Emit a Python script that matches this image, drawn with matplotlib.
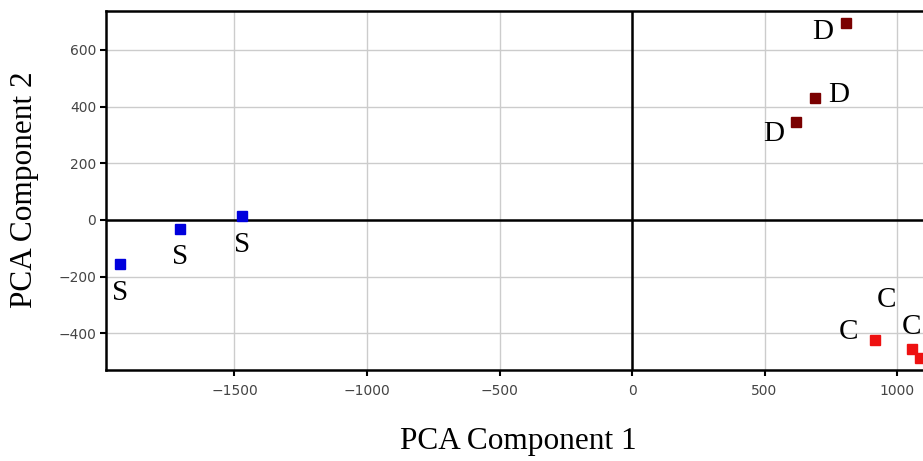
import matplotlib
matplotlib.use("Agg")
import matplotlib.pyplot as plt

# PCA scores
s_x = [-1932, -1706, -1472]
s_y = [-155, -32, 14]
d_x = [808, 690, 619]
d_y = [695, 430, 346]
c_x = [917, 1057, 1087]
c_y = [-423, -455, -487]

# label anchors (data coords)
s_lab = [(-1932, -256), (-1706, -129), (-1472, -87)]
d_lab = [(720, 662), (779, 440), (533, 302)]
c_lab = [(815, -394), (962, -281), (1055, -378)]

fig = plt.figure(figsize=(9.23, 4.61), dpi=100)
ax = fig.add_axes([0.1148, 0.1974, 0.895, 0.7787])

ax.set_xlim(-1985, 1132)
ax.set_ylim(-529, 737)
ax.set_xticks([-1500, -1000, -500, 0, 500, 1000])
ax.set_yticks([-400, -200, 0, 200, 400, 600])
ax.set_xticklabels(["\u22121500", "\u22121000", "\u2212500", "0", "500", "1000"])
ax.set_yticklabels(["\u2212400", "\u2212200", "0", "200", "400", "600"])
ax.grid(color="#cccccc", linewidth=1)
ax.set_axisbelow(True)
ax.axhline(0, color="black", linewidth=1.8, zorder=1)
ax.axvline(0, color="black", linewidth=1.8, zorder=1)

for sp in ["left", "bottom", "top"]:
    ax.spines[sp].set_linewidth(1.8)
ax.spines["right"].set_visible(False)
ax.tick_params(direction="out", length=4, width=1.5, labelsize=10,
               labelcolor="#444444")
ax.tick_params(axis="x", pad=6)
ax.tick_params(axis="y", pad=3)

ax.plot(s_x, s_y, "s", color="#0000dd", markersize=6.5, zorder=3)
ax.plot(d_x, d_y, "s", color="#7a0000", markersize=6.5, zorder=3)
ax.plot(c_x, c_y, "s", color="#ee1111", markersize=6.5, zorder=3, clip_on=False)

lab_font = dict(family="Liberation Serif", fontsize=21, color="black",
                ha="center", va="center")
for (x, y) in s_lab:
    ax.text(x, y, "S", **lab_font)
for (x, y) in d_lab:
    ax.text(x, y, "D", **lab_font)
for (x, y) in c_lab:
    ax.text(x, y, "C", **lab_font)

fig.text(0.562, 0.043, "PCA Component 1", family="Liberation Serif",
         fontsize=22.5, ha="center", va="center")
fig.text(0.027, 0.588, "PCA Component 2", family="Liberation Serif",
         fontsize=22.5, ha="center", va="center", rotation=90)

fig.savefig("out.png", dpi=100)
